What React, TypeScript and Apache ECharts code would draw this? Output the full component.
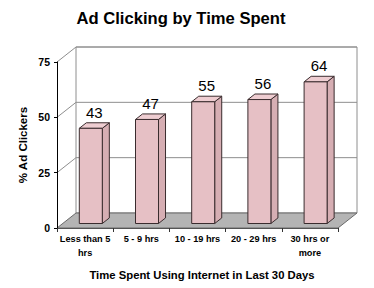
import React, { useEffect, useRef } from "react";
import * as echarts from "echarts";

const categories = ["Less than 5\nhrs", "5 - 9 hrs", "10 - 19 hrs", "20 - 29 hrs", "30 hrs or\nmore"];
const values = [43, 47, 55, 56, 64];
const yTicks = [0, 25, 50, 75];
const titleText = "Ad Clicking by Time Spent";
const yName = "% Ad Clickers";
const xName = "Time Spent Using Internet in Last 30 Days";

const FONT = "Arial, 'Liberation Sans', sans-serif";
const DX = 19;
const DY = -15;
const F0 = 0.3;
const F1 = 0.67;
const BAR_W = 23;

export default function App() {
  const ref = useRef<HTMLDivElement>(null);
  useEffect(() => {
    if (!ref.current) return;
    const chart = echarts.init(ref.current, undefined, { renderer: "svg" });
    const wallLine = "#8e8e8e";
    const option: any = {
      animation: false,
      backgroundColor: "#ffffff",
      grid: { left: 57, right: 36, top: 62, bottom: 60 },
      xAxis: {
        type: "category",
        data: categories,
        axisLine: { show: true, lineStyle: { color: "#555", width: 1 } },
        axisTick: { show: true, length: 4, lineStyle: { color: "#333" } },
        axisLabel: {
          interval: 0,
          margin: 4,
          fontFamily: FONT,
          fontWeight: "bold",
          fontSize: 9.2,
          lineHeight: 14,
          color: "#000",
        },
        splitLine: { show: false },
        z: 5,
      },
      yAxis: {
        type: "value",
        min: 0,
        max: 75,
        interval: 25,
        axisLine: { show: true, lineStyle: { color: "#000", width: 1 } },
        axisTick: { show: true, length: 3, lineStyle: { color: "#000" } },
        axisLabel: {
          margin: 7,
          fontFamily: FONT,
          fontWeight: "bold",
          fontSize: 10.5,
          color: "#000",
        },
        splitLine: { show: false },
        z: 5,
      },
      graphic: [
        {
          type: "text",
          x: 181,
          y: 18,
          style: {
            text: titleText,
            font: `bold 16.6px ${FONT}`,
            fill: "#000",
            align: "center",
            verticalAlign: "middle",
          },
        },
        {
          type: "text",
          x: 23,
          y: 145,
          rotation: Math.PI / 2,
          style: {
            text: yName,
            font: `bold 11.5px ${FONT}`,
            fill: "#000",
            align: "center",
            verticalAlign: "middle",
          },
        },
        {
          type: "text",
          x: 202,
          y: 275,
          style: {
            text: xName,
            font: `bold 11.3px ${FONT}`,
            fill: "#000",
            align: "center",
            verticalAlign: "middle",
          },
        },
      ],
      series: [
        {
          type: "custom",
          name: "walls",
          silent: true,
          data: [[0, 0]],
          encode: { x: 0, y: 1 },
          renderItem: (params: any, api: any) => {
            const cs = params.coordSys;
            const x0 = cs.x;
            const x1 = cs.x + cs.width;
            const yt = cs.y;
            const yb = cs.y + cs.height;
            const children: any[] = [];
            children.push({
              type: "polygon",
              shape: { points: [[x0, yt], [x0 + DX, yt + DY], [x0 + DX, yb + DY], [x0, yb]] },
              style: { fill: "#fff", stroke: null },
            });
            children.push({
              type: "rect",
              shape: { x: x0 + DX, y: yt + DY, width: x1 - x0, height: yb - yt },
              style: { fill: "#fff", stroke: wallLine, lineWidth: 1 },
            });
            yTicks.forEach((v) => {
              if (v === 0) return;
              const yv = api.coord([0, v])[1];
              children.push({
                type: "line",
                shape: { x1: x0, y1: yv, x2: x0 + DX, y2: yv + DY },
                style: { stroke: wallLine, lineWidth: 1 },
              });
              children.push({
                type: "line",
                shape: { x1: x0 + DX, y1: yv + DY, x2: x1 + DX, y2: yv + DY },
                style: { stroke: wallLine, lineWidth: 1 },
              });
            });
            children.push({
              type: "polygon",
              shape: { points: [[x0, yb], [x1, yb], [x1 + DX, yb + DY], [x0 + DX, yb + DY]] },
              style: { fill: "#b4b4b4", stroke: "#6a6a6a", lineWidth: 1 },
            });
            return { type: "group", children };
          },
          z: 1,
        },
        {
          type: "custom",
          name: "% Ad Clickers",
          data: values.map((v, i) => [i, v]),
          encode: { x: 0, y: 1 },
          renderItem: (params: any, api: any) => {
            const i = api.value(0);
            const v = api.value(1);
            const cs = params.coordSys;
            const yb = cs.y + cs.height;
            const c = api.coord([i, 0])[0];
            const ox = F0 * DX;
            const oy = F0 * DY;
            const ddx = (F1 - F0) * DX;
            const ddy = (F1 - F0) * DY;
            const xl = c + ox - BAR_W / 2;
            const xr = xl + BAR_W;
            const yBot = yb + oy;
            const yTop = api.coord([i, v])[1] + oy;
            const stroke = "#3a2c2e";
            return {
              type: "group",
              children: [
                {
                  type: "polygon",
                  shape: { points: [[xr, yTop], [xr + ddx, yTop + ddy], [xr + ddx, yBot + ddy], [xr, yBot]] },
                  style: { fill: "#d6aeb3", stroke, lineWidth: 1 },
                },
                {
                  type: "polygon",
                  shape: { points: [[xl, yTop], [xl + ddx, yTop + ddy], [xr + ddx, yTop + ddy], [xr, yTop]] },
                  style: { fill: "#eecdd1", stroke, lineWidth: 1 },
                },
                {
                  type: "rect",
                  shape: { x: xl, y: yTop, width: BAR_W, height: yBot - yTop },
                  style: { fill: "#e6c0c5", stroke, lineWidth: 1 },
                },
                {
                  type: "text",
                  x: (xl + xr + ddx) / 2,
                  y: yTop + ddy - 10.5,
                  style: {
                    text: String(v),
                    font: `15px ${FONT}`,
                    fill: "#000",
                    align: "center",
                    verticalAlign: "middle",
                  },
                },
              ],
            };
          },
          z: 2,
        },
      ],
    };
    chart.setOption(option);
    return () => chart.dispose();
  }, []);
  return (
    <div
      ref={ref}
      style={{ position: "fixed", left: 0, top: 0, width: 374, height: 288 }}
    />
  );
}
